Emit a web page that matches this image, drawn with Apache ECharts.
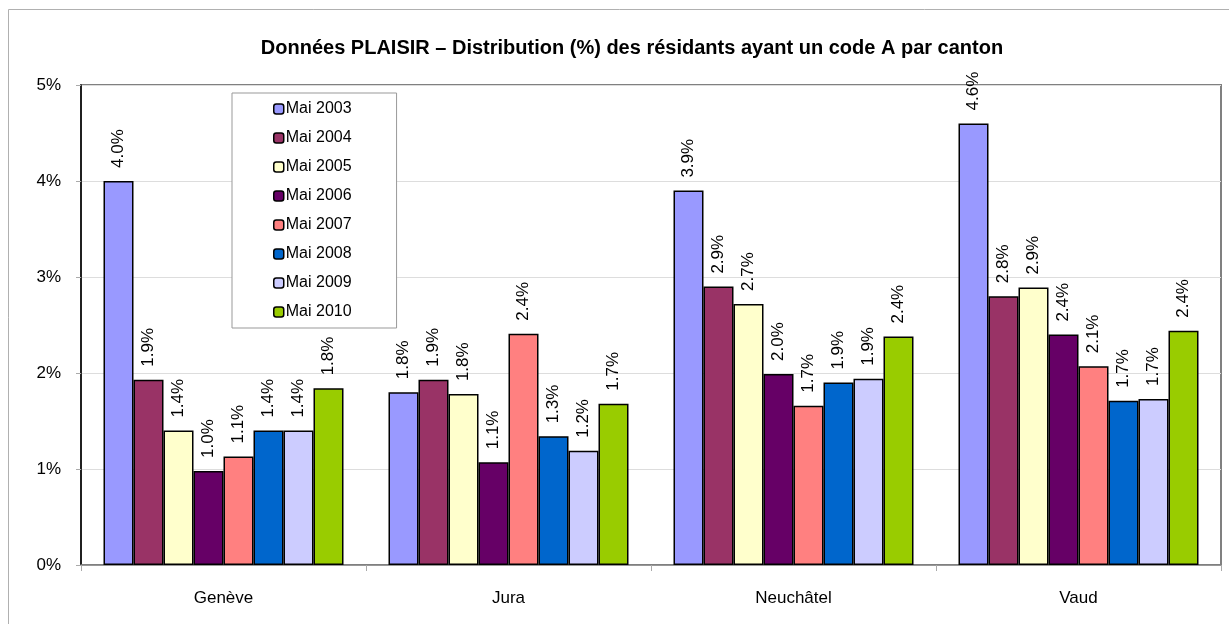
<!DOCTYPE html>
<html>
<head>
<meta charset="utf-8">
<script src="https://cdn.jsdelivr.net/npm/echarts@6/dist/echarts.min.js"></script>
<style>
html,body{margin:0;padding:0;background:#fff;}
#barChart{width:1229px;height:624px;}
</style>
</head>
<body>
<div id="barChart"></div>
<script>
var cantons = ['Genève', 'Jura', 'Neuchâtel', 'Vaud'];
var yTicks = [0, 1, 2, 3, 4, 5];
// une liste par relevé (valeurs en %)
var mai2003 = [4.00, 1.80, 3.90, 4.60];
var mai2004 = [1.93, 1.93, 2.90, 2.80];
var mai2005 = [1.40, 1.78, 2.72, 2.89];
var mai2006 = [0.98, 1.07, 1.99, 2.40];
var mai2007 = [1.13, 2.41, 1.66, 2.07];
var mai2008 = [1.40, 1.34, 1.90, 1.71];
var mai2009 = [1.40, 1.19, 1.94, 1.73];
var mai2010 = [1.84, 1.68, 2.38, 2.44];

var noms = ['Mai 2003', 'Mai 2004', 'Mai 2005', 'Mai 2006', 'Mai 2007', 'Mai 2008', 'Mai 2009', 'Mai 2010'];
var valeurs = [mai2003, mai2004, mai2005, mai2006, mai2007, mai2008, mai2009, mai2010];
var couleurs = ['#9999ff', '#993366', '#ffffcc', '#660066', '#ff8080', '#0066cc', '#ccccff', '#99cc00'];

var police = '"Liberation Sans", Arial, sans-serif';

var byId = function(id) {
	return document.getElementById(id);
};

var getSeries = function() {
	var series = [];
	for (var i = 0; i < noms.length; i++) {
		series.push({
			name: noms[i],
			type: 'bar',
			barWidth: 30,
			barGap: '0%',
			itemStyle: {
				color: couleurs[i],
				borderColor: '#000',
				borderWidth: 1.5
			},
			label: {
				show: true,
				position: 'top',
				rotate: 90,
				align: 'left',
				verticalAlign: 'middle',
				distance: 13,
				color: '#000',
				fontFamily: police,
				fontSize: 17,
				formatter: function(p) {
					return p.value.toFixed(1) + '%';
				}
			},
			data: valeurs[i]
		});
	}
	return series;
};

var getOption = function() {
	return {
		animation: false,
		backgroundColor: '#fff',
		textStyle: { fontFamily: police },
		title: {
			text: 'Données PLAISIR – Distribution (%) des résidants ayant un code A par canton',
			left: 627,
			top: 33,
			textAlign: 'center',
			textStyle: {
				fontFamily: police,
				fontSize: 20,
				fontWeight: 'bold',
				color: '#000'
			}
		},
		graphic: [{
			type: 'rect',
			shape: { x: 8.5, y: 9.5, width: 1240, height: 640 },
			style: { fill: 'none', stroke: '#b0b0b0', lineWidth: 1 },
			silent: true,
			z: -1
		}],
		legend: {
			orient: 'vertical',
			left: 232,
			top: 93,
			padding: [8, 45, 8, 41],
			itemWidth: 10,
			itemHeight: 10,
			itemGap: 13,
			backgroundColor: '#fff',
			borderColor: '#999',
			borderWidth: 1,
			itemStyle: { borderColor: '#000', borderWidth: 1.5 },
			textStyle: {
				fontFamily: police,
				fontSize: 16,
				lineHeight: 16,
				color: '#000',
				padding: [0, 0, 0, -3]
			},
			data: noms
		},
		grid: {
			left: 81,
			right: 8,
			top: 85,
			bottom: 59,
			show: true,
			borderColor: '#808080',
			borderWidth: 2
		},
		xAxis: {
			type: 'category',
			data: cantons,
			axisLine: { lineStyle: { color: '#808080', width: 1.5 } },
			axisTick: { show: true, alignWithLabel: false, length: 6, lineStyle: { color: '#aaa' } },
			axisLabel: {
				margin: 25,
				color: '#000',
				fontFamily: police,
				fontSize: 17
			}
		},
		yAxis: {
			type: 'value',
			min: yTicks[0],
			max: yTicks[yTicks.length - 1],
			interval: 1,
			axisLine: { show: true, lineStyle: { color: '#000', width: 1.5 } },
			axisTick: { show: true, length: 5, lineStyle: { color: '#aaa' } },
			splitLine: { lineStyle: { color: '#ddd', width: 1 } },
			axisLabel: {
				margin: 20,
				color: '#000',
				fontFamily: police,
				fontSize: 17,
				formatter: '{value}%'
			}
		},
		series: getSeries()
	};
};

var barChart = echarts.init(byId('barChart'));
barChart.setOption(getOption());
</script>
</body>
</html>
